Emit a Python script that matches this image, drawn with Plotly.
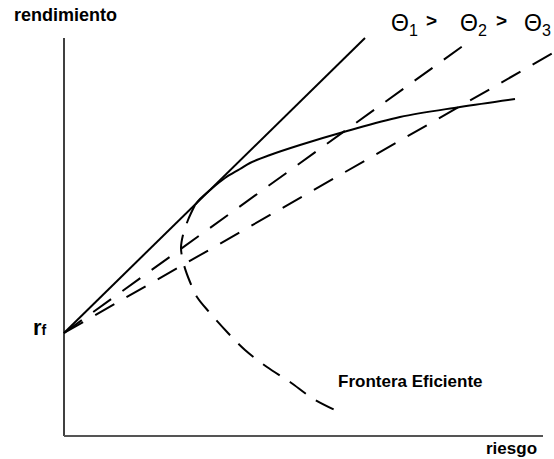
import plotly.graph_objects as go

# ---- data (risk, return) in chart units ----
rf = 10.3
cml_end_risk = [30.1, 40.3, 48.9]          # end points of the three lines from rf
cml_end_ret = [39.8, 39.3, 38.3]
cml_dash = ["solid", "22px,14px", "22px,14px"]

eff_risk = [13.1, 13.6, 14.6, 16.1, 17.6, 18.6, 20.6, 23.6, 28.3, 33.6, 39.6, 45.1]
eff_ret = [23.1, 23.7, 24.6, 25.8, 26.7, 27.3, 28.1, 29.1, 30.5, 31.9, 32.9, 33.7]

ineff_risk = [13.1, 12.4, 11.9, 11.7, 12.0, 12.6, 13.3, 14.6, 16.4, 18.1, 20.3, 22.6, 24.8, 27.1]
ineff_ret = [23.1, 21.6, 20.1, 18.8, 17.1, 15.4, 13.9, 12.3, 10.3, 8.6, 6.9, 5.4, 3.8, 2.6]

axis_y_top = 39.8
axis_x_right = 47.9

FONT = "Liberation Sans, Arial, sans-serif"

W, H = 554, 459
ML, MT, MB = 54, 0, 13
PW, PH = W - ML, H - MT - MB

fig = go.Figure()

# axes
fig.add_trace(go.Scatter(x=[0, 0], y=[0, axis_y_top], mode="lines",
                         line=dict(color="black", width=1.5), hoverinfo="skip"))
fig.add_trace(go.Scatter(x=[0, axis_x_right], y=[0, 0], mode="lines",
                         line=dict(color="#555555", width=2), hoverinfo="skip"))

# lines from rf
for xr, yr, d in zip(cml_end_risk, cml_end_ret, cml_dash):
    fig.add_trace(go.Scatter(x=[0, xr], y=[rf, yr], mode="lines",
                             line=dict(color="black", width=2, dash=d), hoverinfo="skip"))

# frontier
fig.add_trace(go.Scatter(x=eff_risk, y=eff_ret, mode="lines",
                         line=dict(color="black", width=2, shape="spline"), hoverinfo="skip"))
fig.add_trace(go.Scatter(x=ineff_risk, y=ineff_ret, mode="lines",
                         line=dict(color="black", width=2, dash="20px,12px", shape="spline"),
                         hoverinfo="skip"))


def ann(text, px, py, size, xanchor="left", bold=False):
    fig.add_annotation(x=(px - ML) / PW, y=(MT + PH - py) / PH, xref="paper", yref="paper",
                       text=("<b>%s</b>" % text) if bold else text,
                       showarrow=False, xanchor=xanchor, yanchor="middle",
                       font=dict(family=FONT, size=size, color="black"))


ann("rendimiento", 12, 15, 18, bold=True)
ann("riesgo", 484, 448, 17, bold=True)
ann("Frontera Eficiente", 336, 381, 17, bold=True)
ann("r<span style='font-size:14px'>f</span>", 40, 327, 22, xanchor="center", bold=True)

ann("Θ<sub>1</sub>", 389, 24, 23)
ann("<b>&gt;</b>", 424, 20, 19)
ann("Θ<sub>2</sub>", 458, 24, 23)
ann("<b>&gt;</b>", 494, 20, 19)
ann("Θ<sub>3</sub>", 522, 24, 23)

fig.update_layout(
    width=W, height=H,
    margin=dict(l=ML, r=0, t=MT, b=MB),
    paper_bgcolor="white", plot_bgcolor="white",
    showlegend=False,
    hovermode=False,
    xaxis=dict(range=[-1, 49], visible=False, fixedrange=True),
    yaxis=dict(range=[-1, 43.6], visible=False, fixedrange=True),
)

fig.write_html("out.html", config={"displayModeBar": False, "staticPlot": True},
               post_script="document.body.style.margin='0';")
